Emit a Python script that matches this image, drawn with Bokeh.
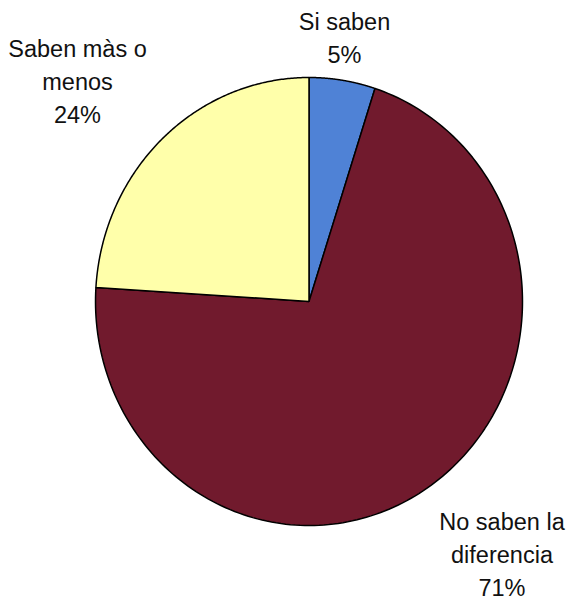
import numpy as np
from bokeh.plotting import figure
from bokeh.models import Range1d, ColumnDataSource
from bokeh.core.properties import value
from bokeh.embed import file_html
from bokeh.resources import INLINE

# ---- data ----
categories = ["Si saben", "No saben la diferencia", "Saben màs o menos"]
percents = [5, 71, 24]
colors = ["#4F82D6", "#711A2D", "#FFFFAA"]
label_lines = [["Si saben", "5%"], ["No saben la", "diferencia", "71%"], ["Saben màs o", "menos", "24%"]]

# ---- layout (pixel-like data units, origin at pie centre) ----
W, H = 569, 600
cx, cy = 308.5, 301.0      # pie centre inside canvas (px from left / top)
rx, ry = 213.5, 224.0
label_anchor = [(35.5, 280), (193.0, -220), (-231.5, 253)]   # first line of each label
line_step = 33
font_px = "23.5px"

p = figure(width=W, height=H, output_backend="svg", toolbar_location=None,
           x_range=Range1d(-cx, W - cx), y_range=Range1d(-(H - cy), cy),
           min_border=0, outline_line_color=None)
p.axis.visible = False
p.grid.visible = False
p.background_fill_color = "white"

total = float(sum(percents))
start = np.pi / 2
xs, ys = [], []
for v in percents:
    sweep = 2 * np.pi * v / total
    t = np.linspace(start, start - sweep, 200)
    xs.append(np.concatenate([[0], rx * np.cos(t), [0]]))
    ys.append(np.concatenate([[0], ry * np.sin(t), [0]]))
    start -= sweep

src = ColumnDataSource(dict(xs=xs, ys=ys, color=colors))
p.patches("xs", "ys", source=src, fill_color="color", line_color="black", line_width=1.5)

tx, ty, tt = [], [], []
for (ax, ay), lines in zip(label_anchor, label_lines):
    for i, s in enumerate(lines):
        tx.append(ax)
        ty.append(ay - i * line_step)
        tt.append(s)
p.text(x=tx, y=ty, text=tt, text_align="center", text_baseline="alphabetic",
       text_font=value("Liberation Sans"), text_font_size=font_px, text_color="#111111")

open("out.html", "w").write(file_html(p, INLINE))
